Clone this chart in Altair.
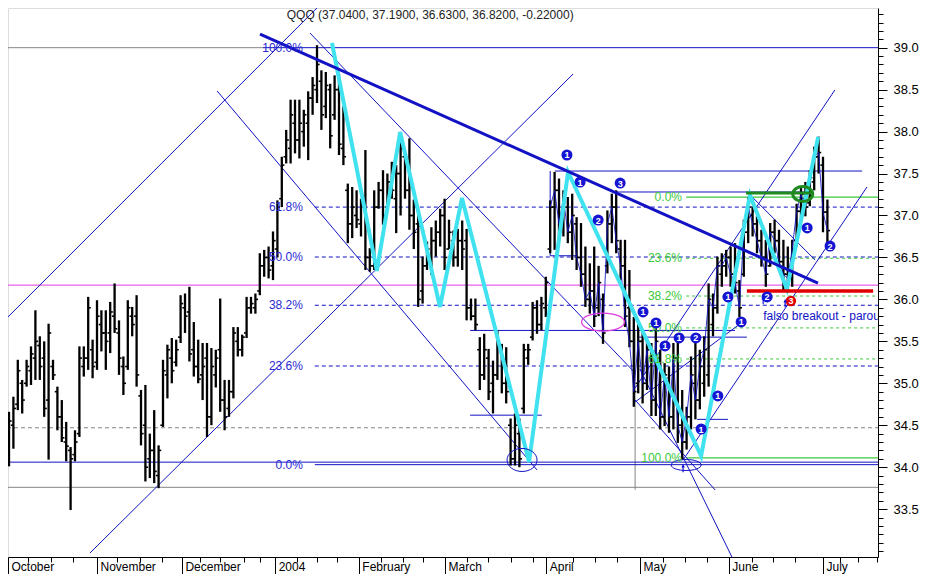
import altair as alt
import pandas as pd

# ---------------- price bars (trading-day index, Oct 1 2003 = 0) ----------------
day = list(range(1, 190))
high = [34.48, 34.46, 34.66, 34.84, 35.28, 35.04, 35.28, 35.44, 35.87, 35.56,
        35.50, 35.71, 35.28, 34.96, 34.80, 34.54, 34.24, 34.44, 35.44, 35.44,
        36.03, 35.52, 35.99, 35.87, 35.87, 35.97, 36.19, 35.75, 35.32, 35.99,
        35.91, 36.05, 34.92, 34.98, 34.40, 34.68, 34.26, 35.28, 35.46, 35.54,
        35.52, 36.05, 36.07, 36.15, 35.73, 35.52, 35.48, 35.48, 35.42, 35.40,
        36.01, 35.04, 35.04, 35.67, 35.67, 35.58, 36.03, 36.03, 36.07, 36.55,
        36.59, 36.63, 36.81, 37.18, 37.70, 38.02, 38.38, 38.38, 38.38, 38.26,
        38.48, 38.65, 39.03, 38.73, 38.71, 38.57, 38.67, 38.69, 38.30, 37.38,
        37.34, 37.30, 37.20, 37.78, 36.61, 37.30, 37.40, 37.54, 37.50, 37.64,
        37.60, 37.94, 37.72, 37.92, 37.19, 37.04, 36.51, 36.69, 36.86, 36.94,
        37.08, 37.20, 36.95, 36.82, 36.84, 36.94, 36.84, 36.01, 36.01, 35.55,
        35.59, 35.41, 35.27, 35.63, 35.47, 35.43, 34.58, 34.64, 34.58, 35.47,
        35.47, 35.97, 35.99, 36.03, 36.27, 37.18, 37.52, 37.44, 37.30, 37.22,
        37.26, 36.98, 36.91, 36.63, 36.43, 36.63, 36.40, 36.07, 37.06, 37.26,
        37.30, 36.71, 36.71, 36.35, 35.79, 35.72, 35.64, 35.52, 35.48, 35.72,
        35.40, 35.24, 35.20, 35.48, 35.52, 34.92, 34.72, 35.32, 35.52, 35.40,
        35.56, 36.19, 36.07, 36.51, 36.55, 36.59, 36.63, 36.67, 36.23, 36.95,
        37.22, 37.11, 36.99, 36.83, 36.71, 36.91, 36.95, 36.83, 36.71, 36.63,
        36.71, 37.14, 37.34, 37.40, 37.54, 37.82, 37.94, 37.70, 37.19]
low = [33.83, 34.01, 34.01, 34.22, 34.68, 34.64, 34.96, 34.98, 35.04, 35.04,
       34.60, 34.09, 35.04, 34.44, 34.30, 34.07, 33.49, 34.07, 34.36, 35.08,
       35.16, 35.06, 35.16, 35.38, 35.16, 35.36, 35.60, 35.10, 34.86, 35.16,
       35.56, 34.96, 34.26, 33.83, 33.87, 33.81, 33.75, 34.48, 34.82, 35.00,
       35.20, 35.48, 35.60, 35.26, 35.08, 35.00, 34.80, 34.36, 34.50, 34.95,
       34.66, 34.44, 34.60, 34.82, 35.32, 35.32, 35.54, 35.83, 35.83, 36.05,
       36.27, 36.25, 36.23, 36.50, 37.10, 37.62, 37.62, 37.74, 37.68, 37.82,
       37.66, 38.20, 38.34, 38.02, 38.16, 37.80, 38.14, 37.72, 37.60, 36.67,
       36.73, 36.85, 36.75, 36.35, 36.33, 36.35, 37.08, 36.89, 37.08, 37.20,
       36.79, 37.00, 37.20, 36.83, 36.60, 35.91, 35.95, 36.35, 36.29, 36.51,
       36.63, 36.35, 36.60, 36.39, 36.39, 36.35, 35.75, 35.75, 35.63, 34.92,
       35.04, 34.80, 34.64, 35.04, 34.88, 34.76, 34.02, 34.02, 34.00, 34.64,
       35.22, 35.51, 35.59, 35.63, 35.79, 36.55, 36.59, 36.71, 36.75, 36.67,
       36.47, 36.35, 36.15, 35.91, 35.83, 35.67, 35.80, 35.47, 36.31, 36.67,
       36.55, 36.23, 35.67, 35.43, 34.72, 34.88, 34.76, 34.92, 34.61, 34.61,
       34.45, 34.49, 34.41, 34.45, 34.29, 34.09, 34.21, 34.45, 34.57, 34.69,
       34.84, 34.96, 35.56, 35.83, 36.15, 36.27, 36.15, 36.07, 35.79, 36.27,
       36.67, 36.75, 36.55, 36.39, 36.15, 36.39, 36.55, 36.35, 36.11, 36.11,
       36.15, 36.63, 36.95, 36.99, 37.11, 37.30, 37.50, 36.80, 36.63]
open_ = [34.30, 34.10, 34.20, 34.50, 34.75, 35.00, 35.00, 35.15, 35.30, 35.45,
         35.30, 34.80, 35.20, 34.90, 34.60, 34.30, 34.20, 34.15, 34.40, 35.20,
         35.30, 35.40, 35.25, 35.70, 35.60, 35.60, 35.80, 35.60, 35.20, 35.20,
         35.80, 35.80, 34.85, 34.50, 34.10, 34.20, 33.90, 34.50, 35.10, 35.30,
         35.25, 35.55, 35.90, 35.85, 35.40, 35.20, 35.10, 35.30, 34.60, 35.10,
         35.40, 34.80, 34.70, 34.90, 35.50, 35.40, 35.60, 35.90, 35.90, 36.10,
         36.40, 36.50, 36.40, 36.60, 37.20, 37.70, 37.80, 38.10, 37.90, 38.00,
         38.10, 38.40, 38.50, 38.60, 38.30, 38.50, 38.20, 38.50, 37.80, 37.30,
         36.90, 37.00, 36.90, 37.10, 36.50, 36.40, 37.10, 37.30, 37.10, 37.40,
         37.20, 37.50, 37.70, 37.30, 37.00, 36.90, 36.10, 36.40, 36.50, 36.70,
         36.80, 37.00, 36.60, 36.70, 36.50, 36.70, 36.70, 35.90, 35.80, 35.40,
         35.10, 35.30, 35.00, 35.10, 35.40, 35.00, 34.50, 34.10, 34.40, 34.70,
         35.30, 35.55, 35.90, 35.70, 35.90, 36.60, 37.10, 37.30, 36.90, 37.10,
         36.80, 36.90, 36.50, 36.30, 36.00, 36.10, 35.90, 36.00, 36.40, 36.90,
         37.10, 36.60, 36.40, 35.90, 35.50, 35.00, 35.50, 35.00, 35.30, 34.80,
         35.30, 34.60, 35.00, 34.60, 35.30, 34.50, 34.30, 34.60, 35.00, 34.80,
         35.00, 35.10, 35.70, 35.90, 36.30, 36.40, 36.50, 36.30, 36.10, 36.30,
         36.80, 37.00, 36.90, 36.70, 36.50, 36.40, 36.80, 36.70, 36.45, 36.30,
         36.25, 36.70, 37.05, 37.20, 37.15, 37.40, 37.70, 37.60, 37.04]
close = [34.10, 34.20, 34.55, 34.70, 35.15, 34.80, 35.20, 35.35, 35.50, 35.20,
         34.70, 35.60, 35.10, 34.60, 34.35, 34.25, 34.10, 34.30, 35.30, 35.30,
         35.90, 35.20, 35.80, 35.60, 35.50, 35.85, 35.65, 35.30, 35.00, 35.90,
         35.70, 35.10, 34.40, 34.00, 34.20, 33.95, 34.20, 35.15, 35.40, 35.15,
         35.40, 35.95, 35.80, 35.35, 35.20, 35.05, 35.20, 34.60, 35.20, 35.30,
         34.80, 34.60, 34.90, 35.60, 35.40, 35.55, 35.90, 35.95, 36.00, 36.40,
         36.50, 36.35, 36.70, 37.10, 37.60, 37.90, 38.20, 37.90, 38.10, 38.20,
         38.40, 38.55, 38.80, 38.20, 38.55, 37.95, 38.50, 37.85, 37.70, 36.90,
         37.10, 36.95, 37.10, 36.50, 36.40, 37.10, 37.30, 37.00, 37.40, 37.30,
         37.50, 37.80, 37.30, 37.00, 36.80, 36.00, 36.40, 36.60, 36.70, 36.80,
         37.00, 36.50, 36.80, 36.50, 36.70, 36.60, 35.90, 35.80, 35.70, 35.10,
         35.40, 34.90, 35.10, 35.50, 35.00, 34.90, 34.10, 34.50, 34.10, 35.40,
         35.40, 35.90, 35.70, 35.95, 36.20, 37.10, 37.30, 36.90, 37.20, 36.80,
         37.00, 36.50, 36.30, 36.00, 36.10, 35.80, 36.20, 35.60, 36.90, 37.10,
         36.70, 36.40, 35.80, 35.50, 34.90, 35.50, 35.00, 35.40, 34.80, 35.50,
         34.60, 35.10, 34.60, 35.30, 34.50, 34.30, 34.60, 35.10, 34.80, 35.20,
         35.40, 36.00, 35.90, 36.40, 36.40, 36.50, 36.30, 36.20, 35.90, 36.80,
         37.10, 36.90, 36.70, 36.50, 36.30, 36.80, 36.70, 36.45, 36.30, 36.25,
         36.60, 37.05, 37.25, 37.10, 37.45, 37.70, 37.75, 37.04, 36.82]

# ---------------- axis tick positions / labels ----------------
month_ticks = [2.773, 23.0, 42.3, 63.5, 82.5, 102.1, 125.1, 146.4, 166.6, 188.0]
month_names = ["October", "November", "December", "2004", "February", "March",
               "April", "May", "June", "July"]
week_ticks = [7.39, 12.48, 17.61, 27.61, 32.77, 37.84, 46.41, 50.95, 56.41, 60.05,
              68.39, 72.93, 77.48, 87.5, 92.6, 97.0, 107.0, 111.9, 117.0, 122.0,
              131.25, 136.2, 141.25, 151.7, 156.6, 161.7, 171.8, 176.7, 181.6,
              191.9, 196.0, 200.2]
price_labels = [33.5, 34.0, 34.5, 35.0, 35.5, 36.0, 36.5, 37.0, 37.5, 38.0, 38.5, 39.0]
price_minor = [round(33.0 + 0.1 * k, 1) for k in range(65)]

# ---------------- drawn studies (index, price) ----------------
gray_solid = [(0.95, 39.0, 60.7, 39.0), (0.95, 33.76, 200.5, 33.76),
              (145.3, 35.63, 145.3, 33.73)]
gray_dashed = [(0.95, 34.47, 200.5, 34.47)]
magenta_line = [(0.95, 36.17, 200.5, 36.17)]
blue_thin = [(60.7, 39.0, 200.5, 39.0), (0.95, 34.06, 200.5, 34.06),
             (72.5, 34.03, 200.5, 34.03), (127.1, 37.53, 196.9, 37.53),
             (141.2, 37.28, 185.7, 37.28), (126.0, 36.52, 132.3, 36.52),
             (126.0, 37.53, 126.0, 36.52), (107.8, 35.63, 168.0, 35.63),
             (145.7, 35.55, 170.7, 35.55), (107.8, 34.62, 124.1, 34.62),
             (159.4, 34.57, 166.4, 34.57),
             (0.95, 35.695, 74.8, 39.5685), (21.4, 32.977, 131.2, 38.686),
             (50.3, 38.484, 123.0, 33.967), (71.4, 39.175, 145.3, 35.123),
             (145.3, 34.801, 163.5, 33.728), (145.3, 34.944, 190.7, 38.496),
             (156.2, 34.086, 198.0, 37.34), (146.4, 35.17, 167.3, 32.93),
             (171.0, 37.268, 186.2, 36.47), (145.3, 34.777, 170.3, 35.754)]
blue_dashed = [(72.5, 37.10, 200.5, 37.10), (72.5, 36.505, 200.5, 36.505),
               (72.5, 35.93, 200.5, 35.93), (72.5, 35.206, 200.5, 35.206)]
green_solid = [(156.9, 37.22, 200.5, 37.22), (156.9, 34.11, 200.5, 34.11)]
green_dashed = [(156.9, 36.49, 200.5, 36.49), (156.9, 36.04, 200.5, 36.04),
                (156.9, 35.66, 200.5, 35.66), (156.9, 35.29, 200.5, 35.29)]
trend_line = [(60.05, 39.163, 186.86, 36.195)]
red_line = [(170.7, 36.10, 199.4, 36.10)]
dkgreen_line = [(170.5, 37.268, 185.7, 37.268)]

zig_x = [76.4, 86.6, 91.9, 100.95, 105.95, 121.2, 130.05, 160.3, 171.4, 179.8, 186.9]
zig_y = [39.056, 36.339, 37.995, 35.91, 37.209, 34.062, 37.518, 34.134, 37.244, 36.124, 37.936]

fib_lab = ["100.0%", "61.8%", "50.0%", "38.2%", "23.6%", "0.0%"]
fib_val = [39.0, 37.10, 36.505, 35.93, 35.206, 34.03]
fib_x = 69.8
gfib_lab = ["0.0%", "23.6%", "38.2%", "50.0%", "61.8%", "100.0%"]
gfib_val = [37.22, 36.49, 36.04, 35.66, 35.29, 34.11]
gfib_x = 155.95

mk_x = [129.8, 132.8, 141.9, 136.9, 184.4, 189.6, 147.1, 150.05, 152.1, 155.3,
        159.1, 164.1, 160.3, 169.4, 166.4, 175.3]
mk_y = [37.721, 37.399, 37.387, 36.946, 36.851, 36.636, 35.850, 35.719, 35.445,
        35.540, 35.540, 34.849, 34.455, 35.731, 36.029, 36.029]
mk_lab = ["1", "1", "3", "2", "1", "2", "1", "1", "1", "1", "2", "1", "1", "1", "1", "2"]
red_mk = [(180.7, 35.981, "3")]
arrow_x = [156.2, 174.4, 179.4]
arrow_y = [33.99, 35.993, 35.957]
note_pos = (174.4, 35.802)
note_text = "falso breakout - parou"
ellipse_blue_big = (119.6, 34.086)
ellipse_blue_flat = (156.9, 34.026)
ellipse_magenta = (138.0, 35.73)
ellipse_green = (183.4, 37.256)

TITLE = "QQQ (37.0400, 37.1900, 36.6300, 36.8200, -0.22000)"

# ---------------- styling ----------------
BLUE = "#1212c4"
LBLUE = "#2a2ad2"
GREEN = "#3cc83c"
DKGREEN = "#1f8a1f"
MAGENTA = "#e03ce0"
GRAY = "#858585"
RED = "#e00000"
CYAN = "#40e2f0"
FONT = "Liberation Sans"

PLOT_H = 549
xs = alt.Scale(domain=[2.773, 200.5], nice=False, zero=False)
ys = alt.Scale(domain=[39.473 - PLOT_H / 83.9, 39.473], nice=False, zero=False)

expr = ""
for k in range(len(month_ticks) - 1):
    mid = (month_ticks[k] + month_ticks[k + 1]) / 2
    expr += f"datum.value < {mid} ? '{month_names[k]}' : "
expr += f"'{month_names[-1]}'"

ax_x_labels = alt.Axis(orient="bottom", values=month_ticks, labelExpr=expr, ticks=False,
                       domain=True, domainColor="black", labelAlign="left",
                       labelBaseline="top", labelPadding=4, labelOffset=3,
                       labelFontSize=12, labelFont=FONT, labelColor="black",
                       labelFlush=False, labelOverlap=False, labelBound=False,
                       grid=False, title=None)
ax_x_major = alt.Axis(orient="bottom", values=month_ticks, tickSize=17, labels=False,
                      domain=False, tickColor="black", grid=False, title=None)
ax_x_minor = alt.Axis(orient="bottom", values=week_ticks, tickSize=5, labels=False,
                      domain=False, tickColor="black", grid=False, title=None)
ax_y_labels = alt.Axis(orient="right", values=price_labels, format=".1f", tickSize=9,
                       tickColor="black", domainColor="black", labelPadding=6,
                       labelFontSize=13, labelFont=FONT, labelColor="black",
                       labelFlush=False, grid=False, title=None)
ax_y_minor = alt.Axis(orient="right", values=price_minor, tickSize=5, labels=False,
                      domain=False, tickColor="black", grid=False, title=None)

bars = pd.DataFrame({"i": day, "o": open_, "h": high, "l": low, "c": close})


def seg_layer(segs, **mk):
    df = pd.DataFrame(segs, columns=["x1", "y1", "x2", "y2"])
    return alt.Chart(df).mark_rule(clip=True, **mk).encode(
        x=alt.X("x1:Q", scale=xs, axis=None), y=alt.Y("y1:Q", scale=ys, axis=None),
        x2="x2:Q", y2="y2:Q")


def pts(xv, yv, extra=None):
    d = {"x": xv, "y": yv}
    if extra is not None:
        d["t"] = extra
    return pd.DataFrame(d)


def enc_xy(ch):
    return ch.encode(x=alt.X("x:Q", scale=xs, axis=None), y=alt.Y("y:Q", scale=ys, axis=None))


def ellipse(center, w, h, color, sw):
    r = round(h / w, 3)
    path = f"M-1,0A1,{r},0,1,0,1,0A1,{r},0,1,0,-1,0Z"
    return enc_xy(alt.Chart(pts([center[0]], [center[1]])).mark_point(
        shape=path, size=w * w, filled=False, color=color, strokeWidth=sw, opacity=1, clip=True))


layers = [
    seg_layer(gray_solid, color=GRAY, strokeWidth=1),
    seg_layer(gray_dashed, color=GRAY, strokeWidth=1, strokeDash=[4, 3]),
    seg_layer(magenta_line, color=MAGENTA, strokeWidth=1),
    seg_layer(blue_dashed, color=BLUE, strokeWidth=1, strokeDash=[4, 3]),
    seg_layer(green_dashed, color=GREEN, strokeWidth=1, strokeDash=[3, 3]),
    seg_layer(green_solid, color=GREEN, strokeWidth=1.2),
    seg_layer(blue_thin, color=BLUE, strokeWidth=1),
    # OHLC bars
    alt.Chart(bars).mark_rule(color="black", strokeWidth=2.3).encode(
        x=alt.X("i:Q", scale=xs, axis=ax_x_labels),
        y=alt.Y("l:Q", scale=ys, axis=ax_y_labels), y2="h:Q"),
    alt.Chart(bars).transform_calculate(xo="datum.i - 0.6").mark_rule(
        color="black", strokeWidth=1.6).encode(
        x=alt.X("xo:Q", scale=xs, axis=ax_x_major), x2="i:Q",
        y=alt.Y("o:Q", scale=ys, axis=ax_y_minor)),
    alt.Chart(bars).transform_calculate(xc="datum.i + 0.6").mark_rule(
        color="black", strokeWidth=1.6).encode(
        x=alt.X("i:Q", scale=xs, axis=ax_x_minor), x2="xc:Q",
        y=alt.Y("c:Q", scale=ys, axis=None)),
    # thin blue close trace over spring bars
    alt.Chart(bars).transform_filter("datum.i >= 126").mark_line(
        color=BLUE, strokeWidth=1, opacity=0.85).encode(
        x=alt.X("i:Q", scale=xs, axis=None), y=alt.Y("c:Q", scale=ys, axis=None)),
    # cyan zigzag
    alt.Chart(pd.DataFrame({"x": zig_x, "y": zig_y, "k": list(range(len(zig_x)))}))
    .mark_line(color=CYAN, strokeWidth=4, clip=True).encode(
        x=alt.X("x:Q", scale=xs, axis=None), y=alt.Y("y:Q", scale=ys, axis=None),
        order="k:Q"),
    seg_layer(trend_line, color=BLUE, strokeWidth=3),
    seg_layer(red_line, color=RED, strokeWidth=3.5),
    seg_layer(dkgreen_line, color=DKGREEN, strokeWidth=3),
    ellipse(ellipse_blue_big, 30, 23, BLUE, 1),
    ellipse(ellipse_blue_flat, 30, 11, BLUE, 1),
    ellipse(ellipse_magenta, 43, 18, MAGENTA, 1.2),
    ellipse(ellipse_green, 20, 15, DKGREEN, 3),
    # fib labels
    enc_xy(alt.Chart(pts([fib_x] * len(fib_val), fib_val, fib_lab)).mark_text(
        align="right", baseline="middle", font=FONT, fontSize=12, color=LBLUE)).encode(text="t:N"),
    enc_xy(alt.Chart(pts([gfib_x] * len(gfib_val), gfib_val, gfib_lab)).mark_text(
        align="right", baseline="middle", font=FONT, fontSize=12, color=GREEN)).encode(text="t:N"),
    # numbered markers
    enc_xy(alt.Chart(pts(mk_x, mk_y, mk_lab)).mark_point(
        shape="circle", size=121, filled=True, color="#1414d2", opacity=1)),
    enc_xy(alt.Chart(pts(mk_x, mk_y, mk_lab)).mark_text(
        font=FONT, fontSize=9, fontWeight="bold", color="white", baseline="middle", dy=0.5)
    ).encode(text="t:N"),
    enc_xy(alt.Chart(pts([r[0] for r in red_mk], [r[1] for r in red_mk],
                         [r[2] for r in red_mk])).mark_point(
        shape="circle", size=110, filled=True, color=RED, opacity=1)),
    enc_xy(alt.Chart(pts([r[0] for r in red_mk], [r[1] for r in red_mk],
                         [r[2] for r in red_mk])).mark_text(
        font=FONT, fontSize=9, fontWeight="bold", color="white", baseline="middle", dy=0.5)
    ).encode(text="t:N"),
    enc_xy(alt.Chart(pts(arrow_x, arrow_y)).mark_point(
        shape="arrow", size=70, filled=True, color="#1414d2", opacity=1, strokeWidth=2)),
    enc_xy(alt.Chart(pts([note_pos[0]], [note_pos[1]], [note_text])).mark_text(
        align="left", baseline="middle", font=FONT, fontSize=12, color=BLUE, clip=True)
    ).encode(text="t:N"),
]

chart = alt.layer(*layers).properties(
    width=870, height=PLOT_H,
    title=alt.TitleParams(TITLE, anchor="start", dx=290, dy=14, offset=0, baseline="top",
                          fontSize=12, font=FONT, fontWeight="normal", color="#222222"),
    autosize=alt.AutoSizeParams(type="none"),
    padding={"left": 0, "top": 0, "right": 41, "bottom": 17},
).resolve_axis(x="independent", y="independent").configure_view(stroke=None).configure(
    background="white")

chart.save("out.html", embed_options={"renderer": "svg", "actions": False})
